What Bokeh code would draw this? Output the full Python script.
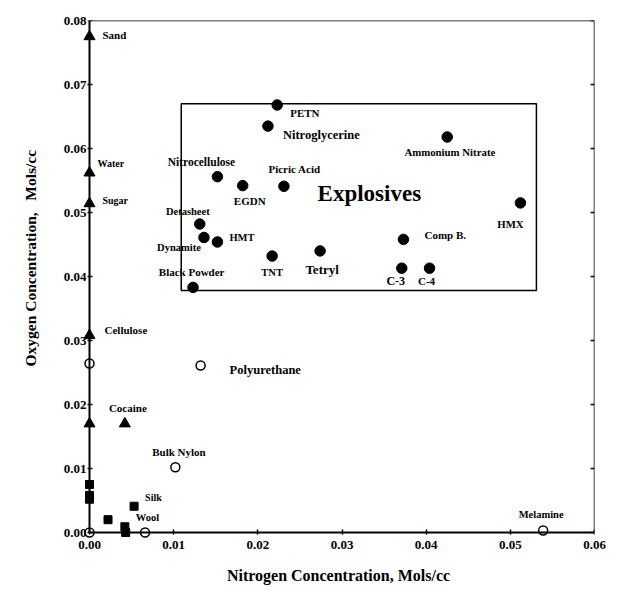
from bokeh.plotting import figure
from bokeh.models import (Range1d, LinearAxis, FixedTicker,
                          CustomJSTickFormatter, Label)
from bokeh.embed import file_html
from bokeh.resources import INLINE

# ---------------- data ----------------
tri_names = ["Sand", "Water", "Sugar", "Cellulose", "", "Cocaine"]
tri_n = [0.0, 0.0, 0.0, 0.0, 0.0, 0.0042]
tri_o = [0.0775, 0.0562, 0.0514, 0.0308, 0.0170, 0.0170]

open_names = ["", "Polyurethane", "Bulk  Nylon", "", "", "Melamine"]
open_n = [0.0, 0.0132, 0.0102, 0.0, 0.0066, 0.0539]
open_o = [0.0264, 0.0261, 0.0102, 0.0, 0.0, 0.0003]

sq_names = ["", "", "", "", "Wool", "", "Silk"]
sq_n = [0.0, 0.0, 0.0, 0.0022, 0.0042, 0.0043, 0.0053]
sq_o = [0.0075, 0.0058, 0.0052, 0.0020, 0.0009, 0.0000, 0.0041]

exp_names = ["PETN", "Nitroglycerine", "Nitrocellulose", "EGDN", "Picric  Acid",
             "Detasheet", "Dynamite", "HMT", "TNT", "Tetryl", "Black  Powder",
             "Ammonium  Nitrate", "HMX", "Comp  B.", "C-3", "C-4"]
exp_n = [0.0223, 0.0212, 0.0152, 0.0182, 0.0231, 0.0131, 0.0136, 0.0152,
         0.0217, 0.0274, 0.0123, 0.0425, 0.0512, 0.0373, 0.0371, 0.0404]
exp_o = [0.0668, 0.0635, 0.0556, 0.0542, 0.0541, 0.0482, 0.0461, 0.0454,
         0.0432, 0.0440, 0.0383, 0.0618, 0.0515, 0.0458, 0.0413, 0.0413]

box_n = [0.0109, 0.0531]
box_o = [0.0378, 0.0670]
group_label = "Explosives"
group_pos = [0.0271, 0.0530]

x_ticks = [0.0, 0.01, 0.02, 0.03, 0.04, 0.05, 0.06]
y_ticks = [0.0, 0.01, 0.02, 0.03, 0.04, 0.05, 0.06, 0.07, 0.08]
x_title = "Nitrogen Concentration, Mols/cc"
y_title = "Oxygen Concentration,\u00a0\u00a0\u00a0Mols/cc"

# ---------------- label styling (pixel dx, dy, align, font px) ----------------
tri_style = [(13, -2, "left", 11), (8, -9, "left", 10), (13, -3, "left", 10),
             (15, -5, "left", 11), (0, 0, "left", 9), (3, -16, "center", 11)]
open_style = [(0, 0, "left", 9), (29, 5, "left", 12.5), (5, -15, "center", 11),
              (0, 0, "left", 9), (0, 0, "left", 9), (-2, -16, "center", 10.5)]
sq_style = [(0, 0, "left", 9)] * 4 + [(11, -9, "left", 10.5), (0, 0, "left", 9),
                                      (11, -9, "left", 10)]
exp_style = [(13, 8, "left", 11), (15, 9, "left", 12.5), (-16, -15, "center", 11.5),
             (7, 15, "center", 11), (12, -17, "center", 11), (-12, -13, "center", 10.5),
             (-25, 10, "center", 10.5), (12, -4, "left", 10.5), (0, 16, "center", 10.5),
             (2, 19, "center", 13), (0, -15, "center", 11), (4, 15, "center", 10.8),
             (-10, 21, "center", 10.8), (21, -4, "left", 11), (-6, 13, "center", 12),
             (-3, 13, "center", 11)]

FONT = "Liberation Serif"
Y_TITLE_SHIFT = 11   # non-breaking spaces that move the y title up along its axis

# ---------------- layout ----------------
FW, FH = 505, 512          # pixel span of 0..0.06 and 0..0.08
PADL, PADB = 7, 6          # room so markers sitting on the axes are not clipped
x_span = x_ticks[-1] - x_ticks[0]
y_span = y_ticks[-1] - y_ticks[0]
x_lo = x_ticks[0] - PADL * x_span / FW
y_lo = y_ticks[0] - PADB * y_span / FH

p = figure(output_backend="svg", toolbar_location=None,
           x_range=Range1d(x_lo, x_ticks[-1]), y_range=Range1d(y_lo, y_ticks[-1]),
           x_axis_location=None, y_axis_location=None,
           frame_width=FW + PADL, frame_height=FH + PADB,
           min_border_left=89 - PADL, min_border_right=20, min_border_top=20,
           min_border_bottom=10)
p.grid.visible = False
p.outline_line_color = None
p.background_fill_color = "white"
p.border_fill_color = "white"

fmt = CustomJSTickFormatter(code="return tick.toFixed(2);")
blank = CustomJSTickFormatter(code="return '';")


def label_axis(ticks, title, title_size):
    ax = LinearAxis(ticker=FixedTicker(ticks=ticks), formatter=fmt, axis_label=title,
                    axis_line_color=None, major_tick_line_color=None,
                    minor_tick_line_color=None, major_tick_in=0, major_tick_out=0,
                    minor_tick_in=0, minor_tick_out=0)
    ax.major_label_text_font = FONT
    ax.major_label_text_font_style = "bold"
    ax.major_label_text_font_size = "13px"
    ax.major_label_text_color = "black"
    ax.axis_label_text_font = FONT
    ax.axis_label_text_font_style = "bold"
    ax.axis_label_text_font_size = title_size
    ax.axis_label_text_color = "black"
    return ax


def line_axis(ticks, loc, bounds, tin, tout, mtin, mtout, lw, minor=5):
    return LinearAxis(ticker=FixedTicker(ticks=ticks, num_minor_ticks=minor),
                      formatter=blank, fixed_location=loc, bounds=bounds,
                      major_tick_in=tin, major_tick_out=tout,
                      minor_tick_in=mtin, minor_tick_out=mtout,
                      major_tick_line_width=1.5, axis_line_width=lw,
                      major_label_text_font_size="1px", major_label_standoff=0)


# tick labels + titles on the ordinary panels
bl = label_axis(x_ticks, x_title, "16px")
bl.major_label_standoff = 2
bl.axis_label_standoff = 15
p.add_layout(bl, "below")

ll = label_axis(y_ticks, "\u00a0" * Y_TITLE_SHIFT + y_title, "15.5px")
ll.major_label_standoff = -4
ll.axis_label_standoff = 22
p.add_layout(ll, "left")

# axis lines and ticks drawn at the data zero lines
xb = (x_ticks[0], x_ticks[-1])
yb = (y_ticks[0], y_ticks[-1])
p.add_layout(line_axis(x_ticks, y_ticks[0], xb, 3, 2, 2, 1, 2), "below")
p.add_layout(line_axis(y_ticks, x_ticks[0], yb, 3, 2, 2, 1, 2), "left")
p.add_layout(line_axis(y_ticks, x_ticks[-1], yb, 4, 0, 2, 0, 1.5), "right")
p.add_layout(line_axis(x_ticks, y_ticks[-1], xb, 0, 0, 0, 0, 1.5, minor=0), "above")

# explosives box
p.quad(left=[box_n[0]], right=[box_n[1]], bottom=[box_o[0]], top=[box_o[1]],
       fill_color=None, line_color="black", line_width=1.5)

p.scatter(tri_n, tri_o, marker="triangle", size=11, color="black")
p.scatter(sq_n, sq_o, marker="square", size=8, color="black")
p.scatter(open_n, open_o, marker="circle", size=9, fill_color="white",
          line_color="black", line_width=1.5)
p.scatter(exp_n, exp_o, marker="circle", size=10.5, color="black")


def add_labels(xs, ys, names, styles):
    for x, y, n, st in zip(xs, ys, names, styles):
        if not n:
            continue
        dx, dy, align, fs = st
        p.add_layout(Label(x=x, y=y, text=n, x_offset=dx, y_offset=-dy,
                           text_align=align, text_baseline="middle",
                           text_font=FONT, text_font_style="bold",
                           text_font_size=f"{fs}px", text_color="black"))


add_labels(tri_n, tri_o, tri_names, tri_style)
add_labels(open_n, open_o, open_names, open_style)
add_labels(sq_n, sq_o, sq_names, sq_style)
add_labels(exp_n, exp_o, exp_names, exp_style)

p.add_layout(Label(x=group_pos[0], y=group_pos[1], text=group_label,
                   text_align="left", text_baseline="middle", text_font=FONT,
                   text_font_style="bold", text_font_size="23px", text_color="black"))

open("out.html", "w").write(file_html(p, INLINE))
